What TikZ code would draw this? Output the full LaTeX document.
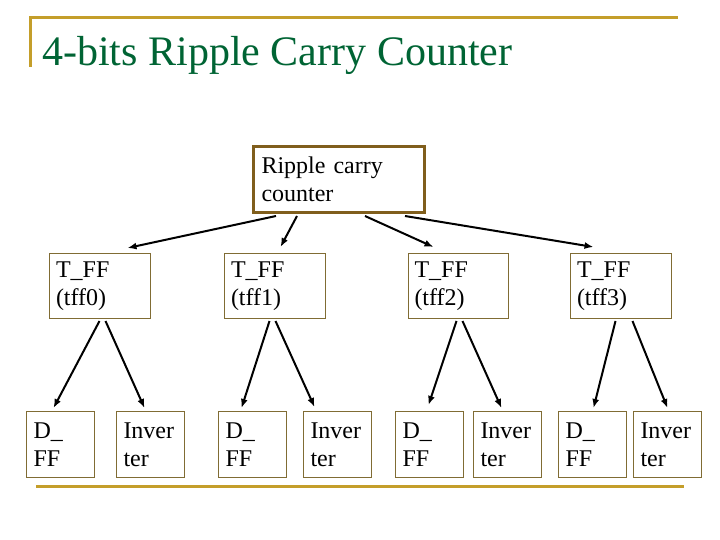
\documentclass[tikz,border=0pt]{standalone}
\usepackage{fontspec}
\setmainfont{Liberation Serif}
\usetikzlibrary{arrows.meta,positioning}
\definecolor{slidegold}{RGB}{196,158,42}
\definecolor{titlegreen}{RGB}{0,100,52}
\definecolor{boxolive}{RGB}{128,108,52}
\definecolor{boxbrown}{RGB}{128,94,28}

\begin{document}
\begin{tikzpicture}[
x=1pt, y=-1pt,
ffbox/.style={draw=boxolive, line width=1pt, anchor=north west, align=left, text width=88pt, inner xsep=6pt, minimum height=65pt, font=\fontsize{24}{28}\selectfont},
leafbox/.style={ffbox, text width=54pt, inner xsep=7pt, minimum height=66pt},
topbox/.style={ffbox, draw=boxbrown, line width=3pt, text width=155pt, inner xsep=8pt, minimum height=66pt},
arrow/.style={-{Latex[length=9pt,width=7pt]}, line width=2pt},
rule/.style={draw=slidegold, line width=3pt}
]
\useasboundingbox (0,0) rectangle (720,540);
% slide frame and title
\draw[rule] (30,67) -- (30,18) -- (678,18);
\draw[rule] (36,486) -- (684,486);
\node[anchor=base west, inner sep=0pt, text=titlegreen, font=\fontsize{42}{46}\selectfont] (title) at (42,66) {4-bits Ripple Carry Counter};
% top module
\node[topbox, minimum width=171pt] (rcc) at (252,145) {Ripple carry\\counter};
% T flip-flops
\node[ffbox, minimum width=101pt] (tff0) at (49,253) {T\_FF\\(tff0)};
\node[ffbox, minimum width=101pt] (tff1) at (224,253) {T\_FF\\(tff1)};
\node[ffbox, minimum width=100pt] (tff2) at (408,253) {T\_FF\\(tff2)};
\node[ffbox, minimum width=101pt] (tff3) at (570,253) {T\_FF\\(tff3)};
% leaves
\node[leafbox, minimum width=68pt] (dff0) at (26,411) {D\_\\FF};
\node[leafbox, minimum width=68pt] (inv0) at (116,411) {Inver\\ter};
\node[leafbox, minimum width=68pt] (dff1) at (218,411) {D\_\\FF};
\node[leafbox, minimum width=68pt] (inv1) at (303,411) {Inver\\ter};
\node[leafbox, minimum width=68pt] (dff2) at (395,411) {D\_\\FF};
\node[leafbox, minimum width=68pt] (inv2) at (473,411) {Inver\\ter};
\node[leafbox, minimum width=68pt] (dff3) at (558,411) {D\_\\FF};
\node[leafbox, minimum width=68pt] (inv3) at (633,411) {Inver\\ter};
% top level arrows
\draw[arrow] ([xshift=24pt,yshift=-2pt]rcc.south west) -- ([xshift=27.5pt,yshift=5pt]tff0.north);
\draw[arrow] ([xshift=45pt,yshift=-2pt]rcc.south west) -- ([xshift=5.5pt,yshift=6pt]tff1.north);
\draw[arrow] ([xshift=113pt,yshift=-2pt]rcc.south west) -- ([xshift=-25pt,yshift=6pt]tff2.north);
\draw[arrow] ([xshift=153pt,yshift=-2pt]rcc.south west) -- ([xshift=-27.5pt,yshift=6pt]tff3.north);
% second level arrows
\draw[arrow] ([xshift=-0.5pt,yshift=-2pt]tff0.south) -- ([xshift=-7pt,yshift=3pt]dff0.north);
\draw[arrow] ([xshift=5.5pt,yshift=-2pt]tff0.south) -- ([xshift=-6pt,yshift=3pt]inv0.north);
\draw[arrow] ([xshift=-5.5pt,yshift=-2pt]tff1.south) -- ([xshift=-11pt,yshift=3pt]dff1.north);
\draw[arrow] ([xshift=0.5pt,yshift=-2pt]tff1.south) -- ([xshift=-23pt,yshift=4pt]inv1.north);
\draw[arrow] ([xshift=-2pt,yshift=-2pt]tff2.south) -- ([xshift=-1pt,yshift=6pt]dff2.north);
\draw[arrow] ([xshift=4pt,yshift=-2pt]tff2.south) -- ([xshift=-6pt,yshift=3pt]inv2.north);
\draw[arrow] ([xshift=-5.5pt,yshift=-2pt]tff3.south) -- ([xshift=1pt,yshift=3pt]dff3.north);
\draw[arrow] ([xshift=11.5pt,yshift=-2pt]tff3.south) -- ([xshift=0pt,yshift=3pt]inv3.north);
\end{tikzpicture}
\end{document}
